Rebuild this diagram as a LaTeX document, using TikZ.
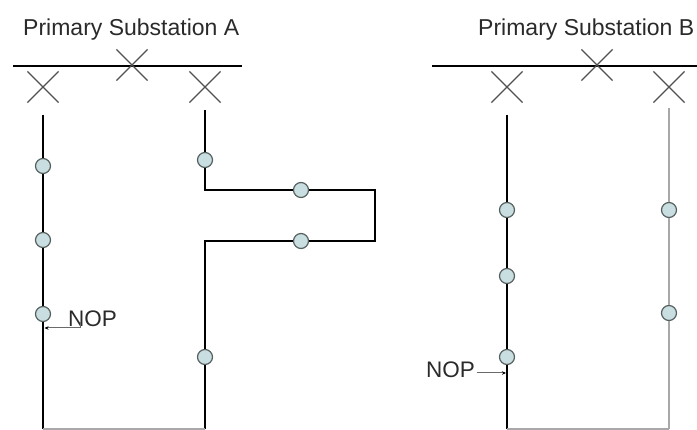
\documentclass[tikz,border=0pt]{standalone}
\usepackage{fontspec}
\setmainfont{Liberation Sans}
\usetikzlibrary{shapes.misc,arrows.meta}
\definecolor{swfill}{HTML}{C9DEE0}
\definecolor{swdraw}{HTML}{56605F}
\definecolor{xgray}{HTML}{505050}
\definecolor{fgray}{HTML}{A8A8A8}
\definecolor{txt}{HTML}{2A2A2A}
\definecolor{argray}{HTML}{6A6A6A}
\begin{document}
\begin{tikzpicture}[x=1pt,y=1pt,
  cb/.style={cross out, draw=xgray, line width=1.2pt, minimum size=30pt, inner sep=0pt},
  sw/.style={circle, draw=swdraw, fill=swfill, line width=1.2pt, minimum size=15pt, inner sep=0pt},
  feeder/.style={line width=1.5pt, black},
  tie/.style={line width=1.5pt, fgray},
  bus/.style={line width=1.4pt, black},
  title/.style={anchor=base west, inner sep=0pt, text=txt, font=\fontsize{23}{27}\selectfont},
  noptxt/.style={anchor=base west, inner sep=0pt, text=txt, font=\fontsize{22.5}{27}\selectfont},
  nopar/.style={line width=1pt, argray, -{Stealth[length=4pt,width=3.5pt,black]}}
]
\useasboundingbox (0,0) rectangle (697,-430);

% ---------- Substation A ----------
\node[title] (tA) at (23,-36) {Primary Substation A};
\coordinate (busAw) at (13,-66);
\coordinate (busAe) at (242,-66);
\draw[bus] (busAw) -- (busAe);
\node[cb] (xa1) at (43,-87) {};
\node[cb] (xa2) at (132,-65) {};
\node[cb] (xa3) at (205,-87) {};

% left feeder A
\coordinate (a1top) at (43,-115);
\node[sw] (a11) at (43,-166) {};
\node[sw] (a12) at (43,-240) {};
\node[sw] (a13) at (43,-314) {};
\coordinate (a1bot) at (43,-429);
\draw[feeder] (a1top) -- (a11) -- (a12) -- (a13) -- (a1bot);

% right feeder A
\coordinate (a2top) at (205,-110);
\node[sw] (a21) at (205,-160) {};
\coordinate (ac1) at (205,-190);
\node[sw] (a22) at (301,-190) {};
\coordinate (ac2) at (375,-190);
\coordinate (ac3) at (375,-241);
\node[sw] (a23) at (301,-241) {};
\coordinate (ac4) at (205,-241);
\node[sw] (a24) at (205,-357) {};
\coordinate (a2bot) at (205,-429);
\draw[feeder] (a2top) -- (a21);
\draw[feeder, line join=miter] (a21) -- (ac1) -- (a22);
\draw[feeder, line join=miter] (a22) -- (ac2) -- (ac3) -- (a23);
\draw[feeder, line join=miter] (a23) -- (ac4) -- (a24);
\draw[feeder] (a24) -- (a2bot);
\draw[tie] (a1bot) -- (a2bot);

% NOP A
\node[noptxt] (nopA) at (68,-327) {NOP};
\coordinate (nA1) at (80,-322);
\coordinate (nA2) at (80,-328);
\coordinate (nAend) at (44.5,-328);
\draw[nopar] (nA1) -- (nA2) -- (nAend);

% ---------- Substation B ----------
\node[title] (tB) at (478,-36) {Primary Substation B};
\coordinate (busBw) at (432,-66);
\coordinate (busBe) at (697,-66);
\draw[bus] (busBw) -- (busBe);
\node[cb] (xb1) at (507,-87) {};
\node[cb] (xb2) at (597,-65) {};
\node[cb] (xb3) at (669,-87) {};

% left feeder B
\coordinate (b1top) at (507,-115);
\node[sw] (b11) at (507,-210) {};
\node[sw] (b12) at (507,-276) {};
\node[sw] (b13) at (507,-357) {};
\coordinate (b1bot) at (507,-429);
\draw[feeder] (b1top) -- (b11) -- (b12) -- (b13) -- (b1bot);

% right feeder B (grey)
\coordinate (b2top) at (669,-108);
\node[sw] (b21) at (669,-210) {};
\node[sw] (b22) at (669,-313) {};
\coordinate (b2bot) at (669,-429);
\draw[tie] (b2top) -- (b21) -- (b22) -- (b2bot);
\draw[tie] (b1bot) -- (b2bot);

% NOP B
\node[noptxt] (nopB) at (426,-378) {NOP};
\coordinate (nB1) at (477,-373);
\coordinate (nBend) at (506,-373);
\draw[nopar] (nB1) -- (nBend);
\end{tikzpicture}
\end{document}
